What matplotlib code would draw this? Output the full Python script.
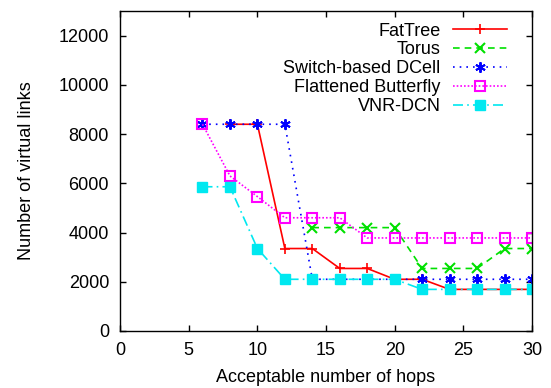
import matplotlib
matplotlib.use("Agg")
import matplotlib.pyplot as plt

plt.rcParams['font.family'] = ['Liberation Sans', 'DejaVu Sans']

hops = [6, 8, 10, 12, 14, 16, 18, 20, 22, 24, 26, 28, 30]

fattree_x = hops[1:]
fattree = [8400, 8400, 3350, 3350, 2540, 2540, 2100, 2100, 1690, 1690, 1690, 1690]

torus_x = hops[4:]
torus = [4200, 4200, 4200, 4200, 2540, 2540, 2540, 3350, 3350]

dcell = [8400, 8400, 8400, 8400, 2100, 2100, 2100, 2100, 2100, 2100, 2100, 2100, 2100]
flat_bfly = [8400, 6300, 5460, 4600, 4600, 4600, 3780, 3780, 3780, 3780, 3780, 3780, 3780]
vnr_dcn = [5860, 5860, 3350, 2100, 2100, 2100, 2100, 2100, 1690, 1690, 1690, 1690, 1690]

fig = plt.figure(figsize=(5.51, 3.88), dpi=100)
ax = fig.add_axes([0.218, 0.147, 0.7475, 0.8245])

lw = 1.2
ax.plot(fattree_x, fattree, color='#ff0000', lw=lw, linestyle='-',
        marker='+', markersize=7.5, markeredgewidth=1.2, label='FatTree')
ax.plot(torus_x, torus, color='#00e000', lw=lw, linestyle=(0, (4, 3)),
        marker='x', markersize=6.5, markeredgewidth=1.5, label='Torus')
ax.plot(hops, dcell, color='#0000ff', lw=lw, linestyle=(0, (1, 3)),
        marker=(6, 2, 0), markersize=7.5, markeredgewidth=1.4, label='Switch-based DCell')
ax.plot(hops, flat_bfly, color='#ff00ff', lw=lw, linestyle=(0, (1, 1.2)),
        marker='s', markersize=6.5, markerfacecolor='none', markeredgewidth=1.5,
        label='Flattened Butterfly')
ax.plot(hops, vnr_dcn, color='#00e8f0', lw=lw, linestyle=(0, (6, 2.5, 1, 2.5)),
        marker='s', markersize=6.5, label='VNR-DCN')

ax.set_xlim(0, 30)
ax.set_ylim(0, 13000)
ax.set_xticks([0, 5, 10, 15, 20, 25, 30])
ax.set_yticks([0, 2000, 4000, 6000, 8000, 10000, 12000])
ax.tick_params(direction='in', top=True, right=True, length=4.5, width=1,
               labelsize=13, pad=8)
for s in ax.spines.values():
    s.set_linewidth(1)

ax.set_xlabel('Acceptable number of hops', fontsize=13, labelpad=7)
ax.set_ylabel('Number of virtual links', fontsize=13, labelpad=17)

ax.legend(loc='upper right', bbox_to_anchor=(0.962, 0.992),
          markerfirst=False, frameon=False, fontsize=13,
          handlelength=3.0, handletextpad=0.7, labelspacing=0.1,
          borderaxespad=0.3, borderpad=0.2, numpoints=1)

fig.savefig('out.png', dpi=100)
